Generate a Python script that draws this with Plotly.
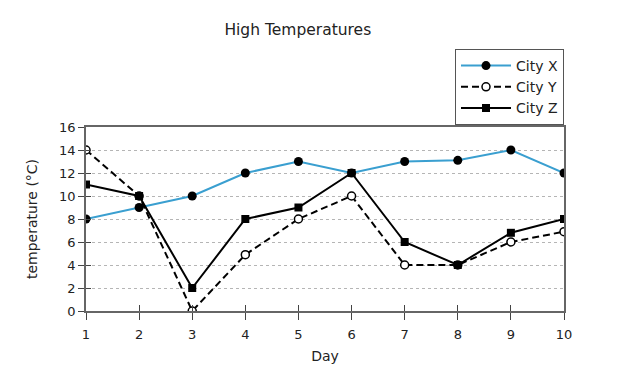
import plotly.graph_objects as go

days = [1, 2, 3, 4, 5, 6, 7, 8, 9, 10]
city_x = [8, 9, 10, 12, 13, 12, 13, 13.1, 14, 12]
city_y = [14, 10, 0, 4.9, 8, 10, 4, 4, 6, 6.9]
city_z = [11, 10, 2, 8, 9, 12, 6, 4, 6.8, 8]
y_ticks = [0, 2, 4, 6, 8, 10, 12, 14, 16]

FONT = "DejaVu Sans"
fig = go.Figure()
fig.add_trace(go.Scatter(x=days, y=city_x, name="City X", mode="lines+markers",
                         line=dict(color="#3a9fd0", width=2),
                         marker=dict(symbol="circle", size=9, color="black")))
fig.add_trace(go.Scatter(x=days, y=city_y, name="City Y", mode="lines+markers",
                         line=dict(color="black", width=2, dash="7px,4px"),
                         marker=dict(symbol="circle", size=8, color="white",
                                     line=dict(color="black", width=1.5))))
fig.add_trace(go.Scatter(x=days, y=city_z, name="City Z", mode="lines+markers",
                         line=dict(color="black", width=2),
                         marker=dict(symbol="square", size=8, color="black")))
# helper trace so the overlay axes (inside half of the crossing ticks) are drawn
fig.add_trace(go.Scatter(x=[None], y=[None], xaxis="x2", yaxis="y2",
                         showlegend=False, hoverinfo="skip"))

fig.update_layout(
    width=630, height=389,
    margin=dict(l=78, r=74, t=119, b=86, autoexpand=False),
    paper_bgcolor="white", plot_bgcolor="white",
    font=dict(family=FONT, size=13, color="#222"),
    title=dict(text="High Temperatures", x=0.46, xanchor="center", y=0.945, yanchor="middle",
               font=dict(family=FONT, size=15.5, color="#222")),
    showlegend=True,
    legend=dict(x=1.0, xanchor="right", y=1.424, yanchor="top",
                bordercolor="#555", borderwidth=1, bgcolor="white",
                font=dict(family=FONT, size=14, color="#222"),
                tracegroupgap=0, itemwidth=50),
    xaxis=dict(range=[1, 10], tickvals=days, ticks="outside", ticklen=7,
               tickcolor="#444", tickwidth=1.2, ticklabelstandoff=4,
               showgrid=False, showline=True, linecolor="#666",
               linewidth=1.5, mirror=True, zeroline=False,
               title=dict(text="Day", standoff=10, font=dict(size=14))),
    yaxis=dict(range=[0, 16], tickvals=y_ticks, ticks="outside", ticklen=6,
               tickcolor="#444", tickwidth=1.2, showgrid=True, gridcolor="#b5b5b5", griddash="dot",
               showline=True, linecolor="#666", linewidth=1.5, mirror=True,
               zeroline=False, title=dict(text="temperature (°C)", standoff=18, font=dict(size=14))),
    xaxis2=dict(range=[1, 10], tickvals=days, ticks="inside", ticklen=6,
                tickcolor="#444", tickwidth=1.2, showticklabels=False, showgrid=False,
                showline=False, zeroline=False, overlaying="x", side="bottom"),
    yaxis2=dict(range=[0, 16], tickvals=y_ticks, ticks="inside", ticklen=5,
                tickcolor="#444", tickwidth=1.2, showticklabels=False, showgrid=False,
                showline=False, zeroline=False, overlaying="y", side="left"),
)
fig.write_html("out.html")
